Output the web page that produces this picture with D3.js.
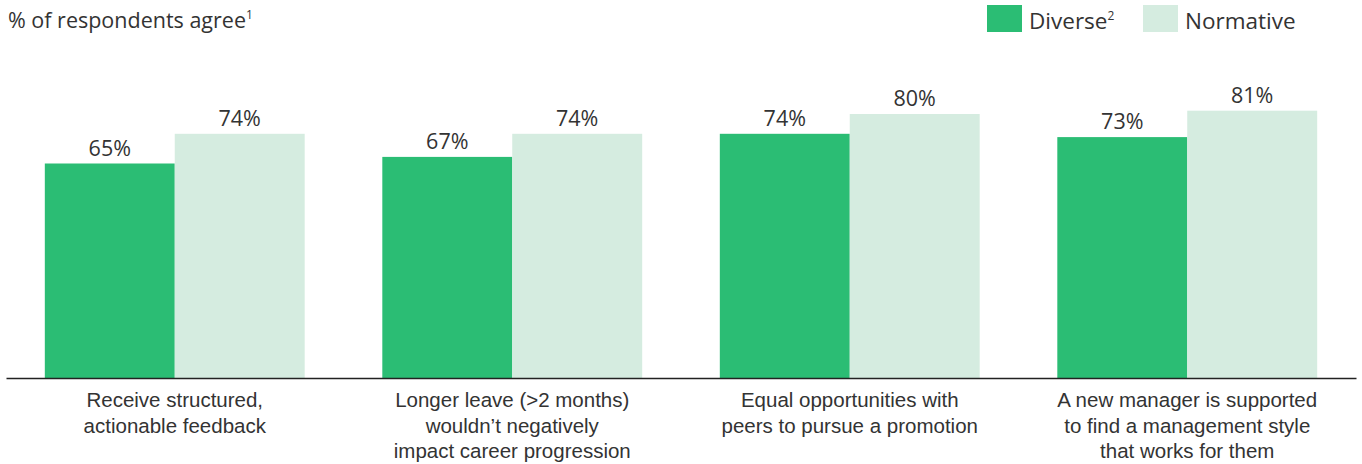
<!DOCTYPE html>
<html>
<head>
<meta charset="utf-8">
<script src="https://cdn.jsdelivr.net/npm/d3@7/dist/d3.min.js"></script>
<style>
  html, body { margin: 0; padding: 0; background: #ffffff; }
  svg { display: block; font-family: "Open Sans", "Noto Sans", sans-serif; }
</style>
</head>
<body>
<svg id="chart" width="1362" height="464"></svg>
<script>
// Survey items shown along the x axis (one array of lines per item)
const categories = [
  ["Receive structured,", "actionable feedback"],
  ["Longer leave (>2 months)", "wouldn\u2019t negatively", "impact career progression"],
  ["Equal opportunities with", "peers to pursue a promotion"],
  ["A new manager is supported", "to find a management style", "that works for them"]
];
const seriesNames = ["Diverse", "Normative"];
const diverseValues = [65, 67, 74, 73];
const normativeValues = [74, 74, 80, 81];
const seriesColors = ["#2bbd74", "#d5ece0"];

const textColor = "#333333";
const svg = d3.select("#chart");

const baseline = 378;
const x0 = d3.scaleBand()
  .domain(d3.range(categories.length))
  .range([6, 1356])
  .paddingInner(0.23)
  .paddingOuter(0.115);
const x1 = d3.scaleBand()
  .domain(seriesNames)
  .range([0, x0.bandwidth()]);
const y = d3.scaleLinear().domain([0, 100]).range([baseline, 48]);

const rows = categories.map((c, i) => ({
  index: i,
  values: [
    { key: "Diverse", value: diverseValues[i] },
    { key: "Normative", value: normativeValues[i] }
  ]
}));
const color = d3.scaleOrdinal().domain(seriesNames).range(seriesColors);

const groups = svg.append("g").selectAll("g")
  .data(rows)
  .join("g")
  .attr("transform", d => `translate(${x0(d.index)},0)`);

groups.selectAll("rect")
  .data(d => d.values)
  .join("rect")
  .attr("x", d => x1(d.key))
  .attr("y", d => y(d.value))
  .attr("width", x1.bandwidth())
  .attr("height", d => baseline - y(d.value))
  .attr("fill", d => color(d.key));

groups.selectAll("text.value")
  .data(d => d.values)
  .join("text")
  .attr("class", "value")
  .attr("x", d => x1(d.key) + x1.bandwidth() / 2)
  .attr("y", d => y(d.value) - 8)
  .attr("text-anchor", "middle")
  .attr("font-size", 21.5)
  .attr("fill", textColor)
  .text(d => d.value + "%");

// Baseline axis with wrapped category labels
const axis = d3.axisBottom(x0).tickSize(0).tickFormat("");
const axisG = svg.append("g")
  .attr("transform", `translate(0,${baseline})`)
  .call(axis);
axisG.select(".domain").attr("stroke", "#222").attr("stroke-width", 1.5);

axisG.selectAll(".tick").each(function (i) {
  const t = d3.select(this).append("text")
    .attr("text-anchor", "middle")
    .attr("fill", textColor)
    .attr("font-size", 20.5)
    .attr("y", 29);
  categories[i].forEach((line, k) => {
    t.append("tspan").attr("x", 0).attr("dy", k === 0 ? 0 : 25.5).text(line);
  });
});

// Title
const title = svg.append("text")
  .attr("x", 8).attr("y", 28)
  .attr("font-size", 21.5)
  .attr("fill", textColor);
title.append("tspan").text("% of respondents agree");
title.append("tspan").attr("font-size", 12).attr("dy", -9).text("1");

// Legend
const legendItems = [
  { key: "Diverse", sup: "2", x: 987 },
  { key: "Normative", sup: "", x: 1143 }
];
const lg = svg.append("g").selectAll("g")
  .data(legendItems)
  .join("g")
  .attr("transform", d => `translate(${d.x},5)`);
lg.append("rect")
  .attr("width", 35).attr("height", 27)
  .attr("fill", d => color(d.key));
const lt = lg.append("text")
  .attr("x", 42).attr("y", 24)
  .attr("font-size", 22.5)
  .attr("fill", textColor);
lt.append("tspan").text(d => d.key);
lt.append("tspan").attr("font-size", 12).attr("dy", -9).text(d => d.sup);
</script>
</body>
</html>
